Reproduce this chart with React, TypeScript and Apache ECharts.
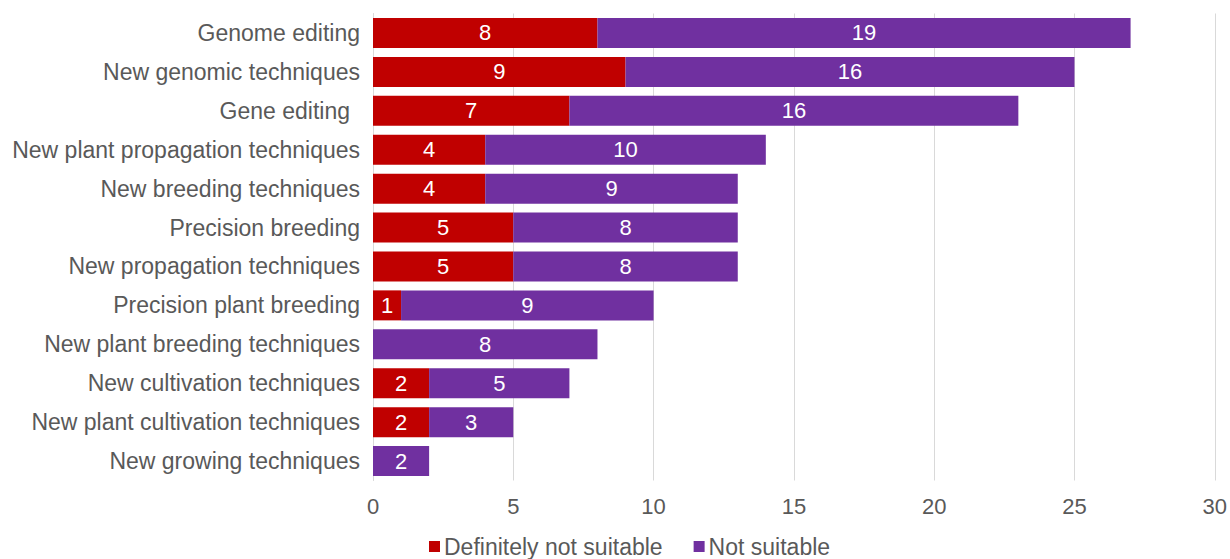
import React, { useEffect, useRef } from "react";
import * as echarts from "echarts";

const categories = [
  "Genome editing",
  "New genomic techniques",
  "Gene editing",
  "New plant propagation techniques",
  "New breeding techniques",
  "Precision breeding",
  "New propagation techniques",
  "Precision plant breeding",
  "New plant breeding techniques",
  "New cultivation techniques",
  "New plant cultivation techniques",
  "New growing techniques",
];
const definitelyNotSuitable = [8, 9, 7, 4, 4, 5, 5, 1, 0, 2, 2, 0];
const notSuitable = [19, 16, 16, 10, 9, 8, 8, 9, 8, 5, 3, 2];
const xTicks = { min: 0, max: 30, interval: 5 };

export default function App() {
  const ref = useRef<HTMLDivElement>(null);
  useEffect(() => {
    if (!ref.current) return;
    document.body.style.margin = "0";
    document.body.style.overflow = "hidden";
    const chart = echarts.init(ref.current, undefined, { renderer: "svg" });
    const font = "Liberation Sans, Arial, sans-serif";
    const fs = 23;
    const label = {
      show: true,
      position: "inside",
      color: "#ffffff",
      fontSize: fs - 1,
      fontFamily: font,
      formatter: (p: any) => (p.value === 0 ? "" : String(p.value)),
    };
    chart.setOption({
      animation: false,
      textStyle: { fontFamily: font },
      grid: { left: 373, right: 15, top: 13.5, bottom: 78.5, containLabel: false },
      legend: {
        top: 530,
        left: 424,
        itemWidth: 11,
        itemHeight: 11,
        itemGap: 31,
        icon: "rect",
        textStyle: { color: "#595959", fontSize: fs, fontFamily: font, padding: [0, 0, 0, -1] },
        data: ["Definitely not suitable", "Not suitable"],
      },
      xAxis: {
        type: "value",
        min: xTicks.min,
        max: xTicks.max,
        interval: xTicks.interval,
        axisLine: { show: false },
        axisTick: { show: false },
        splitLine: { lineStyle: { color: "#d9d9d9", width: 1 } },
        axisLabel: { color: "#595959", fontSize: fs - 1, margin: 15, fontFamily: font },
      },
      yAxis: {
        type: "category",
        inverse: true,
        data: categories,
        axisLine: { show: true, lineStyle: { color: "#d9d9d9" } },
        axisTick: { show: false },
        axisLabel: {
          color: "#595959",
          fontSize: fs,
          margin: 13,
          fontFamily: font,
          formatter: (v: string) => (v === "Gene editing" ? `{g|${v}}` : v),
          rich: { g: { color: "#595959", fontSize: fs, fontFamily: font, padding: [0, 10, 0, 0] } },
        },
      },
      series: [
        {
          name: "Definitely not suitable",
          type: "bar",
          stack: "total",
          barWidth: 30,
          itemStyle: { color: "#C00000" },
          label,
          data: definitelyNotSuitable,
        },
        {
          name: "Not suitable",
          type: "bar",
          stack: "total",
          barWidth: 30,
          itemStyle: { color: "#7030A0" },
          label,
          data: notSuitable,
        },
      ],
    });
    return () => chart.dispose();
  }, []);
  return (
    <div
      ref={ref}
      style={{ position: "absolute", left: 0, top: 0, width: 1230, height: 559 }}
    />
  );
}
